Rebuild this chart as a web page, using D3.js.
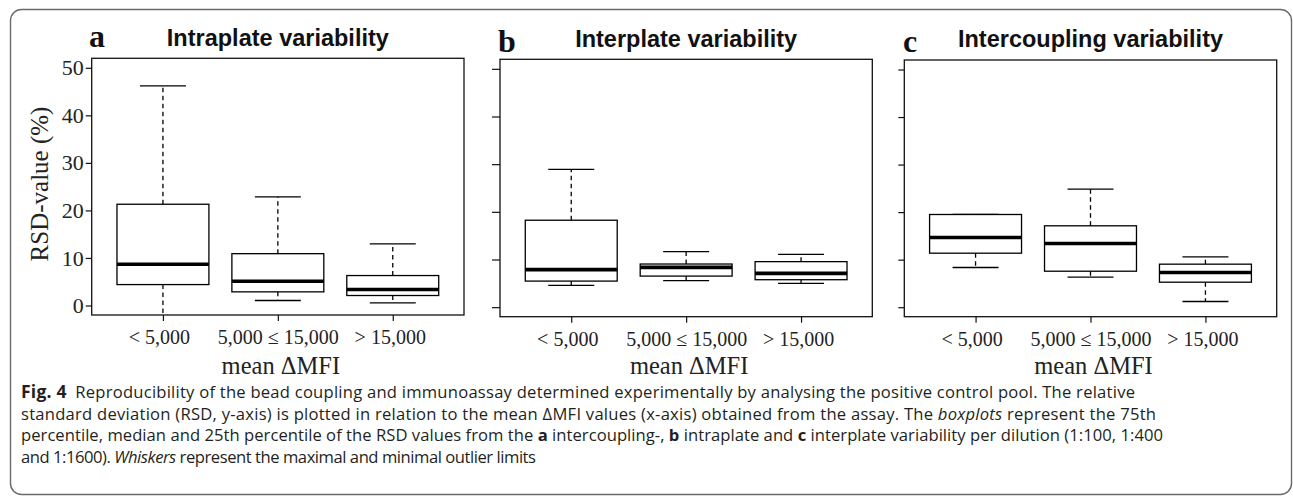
<!DOCTYPE html>
<html><head><meta charset="utf-8">
<script src="https://cdn.jsdelivr.net/npm/d3@7/dist/d3.min.js"></script>
<style>body{margin:0;background:#fff;} svg{display:block}</style>
</head><body>
<svg id="chart" width="1293" height="497"></svg>
<script>
// ---------- data ----------
const categories = ["< 5,000", "5,000 \u2264 15,000", "> 15,000"];
const panelLetters = ["a", "b", "c"];
const panelTitles = ["Intraplate variability", "Interplate variability", "Intercoupling variability"];
const yTicks = [0, 10, 20, 30, 40, 50];
const xAxisTitle = "mean \u0394MFI";
const yAxisTitle = "RSD-value (%)";

// panel a – intraplate
const intraLow    = [-4.0, 1.05, 0.56];
const intraQ1     = [4.4, 2.87, 2.1];
const intraMedian = [8.67, 5.1, 3.36];
const intraQ3     = [21.3, 10.9, 6.3];
const intraHigh   = [46.2, 22.87, 12.95];
// panel b – interplate
const interLow    = [4.56, 5.55, 4.98];
const interQ1     = [5.47, 6.52, 5.76];
const interMedian = [7.87, 8.35, 7.09];
const interQ3     = [18.24, 9.05, 9.55];
const interHigh   = [28.9, 11.65, 11.08];
// panel c – intercoupling
const coupLow     = [8.35, 6.31, 1.2];
const coupQ1      = [11.36, 7.57, 5.26];
const coupMedian  = [14.66, 13.4, 7.3];
const coupQ3      = [19.5, 17.12, 9.05];
const coupHigh    = [19.5, 24.82, 10.6];

const captionLines = [
  [{t:"Fig. 4", w:"bold"}, {t:"\u2002Reproducibility of the bead coupling and immunoassay determined experimentally by analysing the positive control pool. The relative"}],
  [{t:"standard deviation (RSD, y-axis) is plotted in relation to the mean \u0394MFI values (x-axis) obtained from the assay. The "}, {t:"boxplots", s:"italic"}, {t:" represent the 75th"}],
  [{t:"percentile, median and 25th percentile of the RSD values from the "}, {t:"a", w:"bold"}, {t:" intercoupling-, "}, {t:"b", w:"bold"}, {t:" intraplate and "}, {t:"c", w:"bold"}, {t:" interplate variability per dilution (1:100, 1:400"}],
  [{t:"and 1:1600). "}, {t:"Whiskers", s:"italic"}, {t:" represent the maximal and minimal outlier limits"}]
];

// ---------- layout ----------
const layout = [
  {left: 91.7, right: 464, top: 58.3, bottom: 315, letterX: 89, letterY: 46.5, titleY: 46, tick: 6},
  {left: 500, right: 872.3, top: 59.3, bottom: 316.7, letterX: 498, letterY: 51.5, titleY: 46.7, tick: 8},
  {left: 904.3, right: 1276.7, top: 60, bottom: 316.7, letterX: 903, letterY: 51.5, titleY: 46.7, tick: 6}
];
const captionWidths = [1114, 1135, 1142, 515];
const captionBaselines = [398, 419.5, 441, 462.5];

const stats = [
  [intraLow, intraQ1, intraMedian, intraQ3, intraHigh],
  [interLow, interQ1, interMedian, interQ3, interHigh],
  [coupLow, coupQ1, coupMedian, coupQ3, coupHigh]
];

const svg = d3.select("#chart");
const serif = "'Liberation Serif','Times New Roman',serif";
const sans = "'Liberation Sans',Arial,sans-serif";

// outer rounded border
svg.append("rect").attr("x", 10.5).attr("y", 9.5).attr("width", 1281).attr("height", 485)
  .attr("rx", 11).attr("fill", "none").attr("stroke", "#6b6b6b").attr("stroke-width", 1.4);

const defs = svg.append("defs");

layout.forEach((L, p) => {
  const x = d3.scaleLinear().domain([0.38, 3.62]).range([L.left, L.right]);
  const y = d3.scaleLinear().domain([-2, 52]).range([L.bottom, L.top]);
  const g = svg.append("g");

  defs.append("clipPath").attr("id", "clip" + p).append("rect")
    .attr("x", L.left).attr("y", L.top).attr("width", L.right - L.left).attr("height", L.bottom - L.top);

  const [lo, q1, med, q3, hi] = stats[p];
  const rows = categories.map((c, i) => ({i: i + 1, lo: lo[i], q1: q1[i], med: med[i], q3: q3[i], hi: hi[i]}));
  const bw = 0.8, sw = 0.4;

  const boxes = g.append("g").attr("clip-path", `url(#clip${p})`);
  const bg = boxes.selectAll("g.box").data(rows).join("g").attr("class", "box");
  // whiskers (dashed)
  bg.append("line").attr("x1", d => x(d.i)).attr("x2", d => x(d.i))
    .attr("y1", d => y(d.q3)).attr("y2", d => y(d.hi))
    .attr("stroke", "#000").attr("stroke-width", 1.3).attr("stroke-dasharray", "4.5,3.5");
  bg.append("line").attr("x1", d => x(d.i)).attr("x2", d => x(d.i))
    .attr("y1", d => y(d.q1)).attr("y2", d => y(d.lo))
    .attr("stroke", "#000").attr("stroke-width", 1.3).attr("stroke-dasharray", "4.5,3.5");
  // staples
  bg.append("line").attr("x1", d => x(d.i - sw / 2)).attr("x2", d => x(d.i + sw / 2))
    .attr("y1", d => y(d.hi)).attr("y2", d => y(d.hi)).attr("stroke", "#000").attr("stroke-width", 1.3);
  bg.append("line").attr("x1", d => x(d.i - sw / 2)).attr("x2", d => x(d.i + sw / 2))
    .attr("y1", d => y(d.lo)).attr("y2", d => y(d.lo)).attr("stroke", "#000").attr("stroke-width", 1.3);
  // box
  bg.append("rect").attr("x", d => x(d.i - bw / 2)).attr("width", d => x(d.i + bw / 2) - x(d.i - bw / 2))
    .attr("y", d => y(d.q3)).attr("height", d => y(d.q1) - y(d.q3))
    .attr("fill", "#fff").attr("stroke", "#000").attr("stroke-width", 1.3);
  // median
  bg.append("line").attr("x1", d => x(d.i - bw / 2)).attr("x2", d => x(d.i + bw / 2))
    .attr("y1", d => y(d.med)).attr("y2", d => y(d.med)).attr("stroke", "#000").attr("stroke-width", 3.6);

  // frame
  g.append("rect").attr("x", L.left).attr("y", L.top).attr("width", L.right - L.left).attr("height", L.bottom - L.top)
    .attr("fill", "none").attr("stroke", "#111").attr("stroke-width", 1.3);

  // y axis
  const yAxis = d3.axisLeft(y).tickValues(yTicks).tickSize(L.tick).tickPadding(2)
    .tickFormat(p === 0 ? d3.format("d") : () => "");
  const ya = g.append("g").attr("transform", `translate(${L.left},0)`).call(yAxis);
  ya.select(".domain").remove();
  ya.selectAll("line").attr("stroke", "#111").attr("stroke-width", 1.2);
  ya.selectAll("text").attr("font-family", serif).attr("font-size", 22).attr("fill", "#222");

  // x axis
  const xAxis = d3.axisBottom(x).tickValues([1, 2, 3]).tickSize(6).tickPadding(9)
    .tickFormat((d, i) => categories[i]);
  const xa = g.append("g").attr("transform", `translate(0,${L.bottom})`).call(xAxis);
  xa.select(".domain").remove();
  xa.selectAll("line").attr("stroke", "#111").attr("stroke-width", 1.2);
  xa.selectAll("text").attr("font-family", serif).attr("font-size", 20).attr("fill", "#222")
    .attr("dx", (d, i) => [-4, 0, -3][i]);

  // x axis title
  g.append("text").attr("x", (L.left + L.right) / 2 + 3).attr("y", 374).attr("text-anchor", "middle")
    .attr("font-family", serif).attr("font-size", 24.5).attr("fill", "#222").text(xAxisTitle);

  // panel title
  g.append("text").attr("x", (L.left + L.right) / 2).attr("y", L.titleY).attr("text-anchor", "middle")
    .attr("font-family", sans).attr("font-weight", "bold").attr("font-size", 23.5).attr("fill", "#111")
    .text(panelTitles[p]);
  g.append("text").attr("x", L.letterX).attr("y", L.letterY)
    .attr("font-family", serif).attr("font-weight", "bold").attr("font-size", 32).attr("fill", "#111")
    .text(panelLetters[p]);

  if (p === 0) {
    g.append("text").attr("transform", `translate(48,184) rotate(-90)`).attr("text-anchor", "middle")
      .attr("font-family", serif).attr("font-size", 25).attr("fill", "#222").text(yAxisTitle);
  }
});

// caption
const cap = svg.append("g").attr("font-family", "'Open Sans',sans-serif").attr("font-size", 16.6).attr("fill", "#231f20");
captionLines.forEach((line, li) => {
  const t = cap.append("text").attr("x", 21).attr("y", captionBaselines[li])
    .attr("textLength", captionWidths[li]).attr("lengthAdjust", "spacing");
  line.forEach(seg => {
    t.append("tspan").attr("font-weight", seg.w || "normal").attr("font-style", seg.s || "normal")
      .attr("font-size", seg.w === "bold" && li === 0 ? 17.5 : null).text(seg.t);
  });
});
</script>
</body></html>
